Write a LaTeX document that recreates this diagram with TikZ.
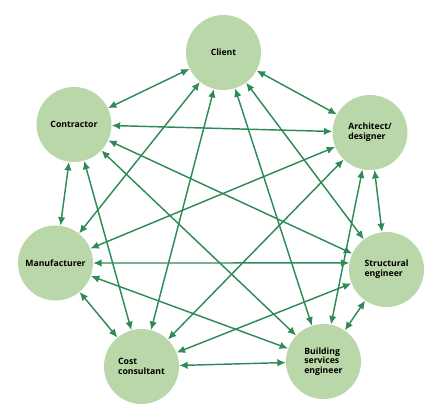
\documentclass[tikz,border=0pt]{standalone}
\usepackage{fontspec}
\setmainfont{Open Sans}
\usetikzlibrary{arrows.meta}
\definecolor{nodefill}{HTML}{B9D7A8}
\definecolor{linkgreen}{HTML}{2E8B57}
\tikzset{
  party/.style={circle, fill=nodefill, minimum size=75pt, inner sep=0pt, align=left,
    font=\fontsize{8.7}{9.7}\selectfont\bfseries, text=black},
  link/.style={draw=linkgreen, line width=1.45pt, {Latex[length=8.5pt,width=7.5pt]}-{Latex[length=8.5pt,width=7.5pt]}}
}
\begin{document}
\begin{tikzpicture}[x=1pt,y=-1pt]
\useasboundingbox (0,0) rectangle (440,412);
\node[party] (cl) at (223.5,52.5) {Client};
\node[party] (co) at (74,124.5) {Contractor};
\node[party] (ar) at (370,132.5) {Architect/\\designer};
\node[party] (ma) at (55.5,263) {Manufacturer};
\node[party] (st) at (386.5,269.5) {Structural\\engineer};
\node[party] (cc) at (141.5,366.5) {Cost\\consultant};
\node[party] (bs) at (323.5,361.5) {Building\\services\\engineer};
\foreach \a/\b in {cl/co,cl/ar,cl/ma,cl/st,cl/cc,cl/bs,
                   co/ar,co/ma,co/st,co/cc,co/bs,
                   ar/ma,ar/st,ar/cc,ar/bs,
                   ma/cc,ma/bs,
                   st/cc,st/bs,
                   cc/bs}
  \draw[link] (\a) -- (\b);
\draw[link] (ma.east) -- (st.170);
\end{tikzpicture}
\end{document}
